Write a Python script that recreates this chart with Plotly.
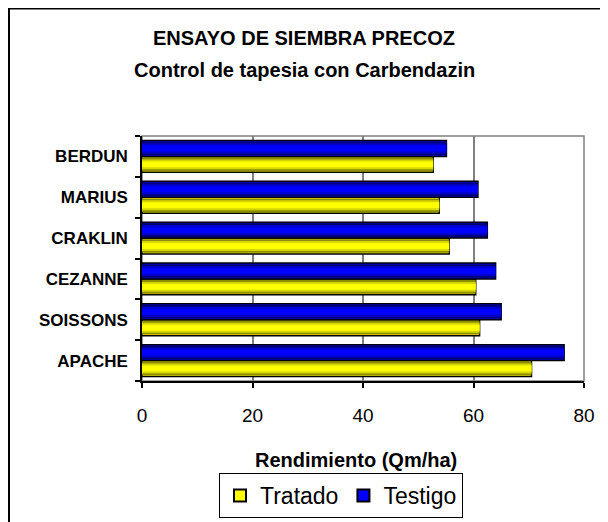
import plotly.graph_objects as go

# ---- data ----
categories = ["APACHE", "SOISSONS", "CEZANNE", "CRAKLIN", "MARIUS", "BERDUN"]
tratado = [70.5, 61.1, 60.4, 55.6, 53.8, 52.7]
testigo = [76.4, 65.0, 64.0, 62.5, 60.8, 55.1]
x_ticks = [0, 20, 40, 60, 80]

title1 = "ENSAYO DE SIEMBRA PRECOZ"
title2 = "Control de tapesia con Carbendazin"
x_title = "Rendimiento (Qm/ha)"

FONT = "Liberation Sans, Arial, sans-serif"

# page offset (body margin) and figure geometry
OFF = 8
W, H = 600, 514
L, R, T, B = 134, 24, 128, 141
pw, ph = W - L - R, H - T - B
def px(x):  # x in screenshot pixels -> paper coords
    return (x - OFF - L) / pw
def py(y):  # y in screenshot pixels -> paper coords
    return (H - B - (y - OFF)) / ph
def cx(x):  # screenshot pixels -> container coords
    return (x - OFF) / W
def cy(y):
    return 1 - (y - OFF) / H

fig = go.Figure()

bw = 0.39       # bar thickness in category units
u = 1 / 40.8    # one pixel in category units

def add_series(name, values, side, colors):
    bright, mid, dark = colors
    layers = [
        (0.0, bright, True, 1.5),
        (1.2 * u, dark, False, 0),
        (3.0 * u, mid, False, 0),
        (5.0 * u, bright, False, 0),
    ]
    for inset, col, show, lw in layers:
        width = bw - 2 * inset
        offset = (inset if side > 0 else -bw + inset)
        fig.add_trace(go.Bar(
            y=categories, x=values, orientation="h", name=name,
            width=width, offset=offset,
            marker=dict(color=col, line=dict(color="black", width=lw)),
            showlegend=show, legendgroup=name, hoverinfo="x+name",
        ))

add_series("Tratado", tratado, -1, ("#FFFF00", "#D6D600", "#8C8C00"))
add_series("Testigo", testigo, +1, ("#0000FF", "#0000CC", "#00007A"))

annotations = [
    dict(text=f"<b>{title1}</b>", x=px(304), y=py(38), xref="paper", yref="paper",
         showarrow=False, font=dict(size=20, color="black", family=FONT),
         xanchor="center", yanchor="middle"),
    dict(text=f"<b>{title2}</b>", x=px(304), y=py(70), xref="paper", yref="paper",
         showarrow=False, font=dict(size=20, color="black", family=FONT),
         xanchor="center", yanchor="middle"),
    dict(text=f"<b>{x_title}</b>", x=px(356), y=py(460), xref="paper", yref="paper",
         showarrow=False, font=dict(size=20, color="black", family=FONT),
         xanchor="center", yanchor="middle"),
]

shapes = [
    dict(type="rect", xref="paper", yref="paper", x0=0, x1=1, y0=0, y1=1,
         line=dict(color="#808080", width=1.5), layer="below"),
    # outer chart border (only top and left visible)
    dict(type="rect", xref="paper", yref="paper", x0=px(9), x1=px(700), y0=py(600), y1=py(8.5),
         line=dict(color="black", width=2)),
]

fig.update_layout(
    width=W, height=H,
    margin=dict(l=L, r=R, t=T, b=B, pad=0, autoexpand=False),
    paper_bgcolor="white", plot_bgcolor="white",
    barmode="overlay",
    font=dict(family=FONT, color="black"),
    annotations=annotations,
    shapes=shapes,
    xaxis=dict(
        range=[0, 80], tickvals=x_ticks, ticktext=[str(v) for v in x_ticks],
        showgrid=True, gridcolor="#808080", gridwidth=1.5,
        showline=True, linecolor="black", linewidth=1.5,
        ticks="outside", ticklen=5, tickcolor="black", tickwidth=1.5,
        tickfont=dict(size=19, family=FONT), ticklabelstandoff=11,
        zeroline=False, fixedrange=True, automargin=False,
    ),
    yaxis=dict(
        type="category", categoryorder="array", categoryarray=categories,
        range=[-0.5, len(categories) - 0.5],
        tickson="boundaries", ticks="outside", ticklen=5, tickcolor="black", tickwidth=1.5,
        showline=True, linecolor="black", linewidth=1.5,
        showgrid=False, zeroline=False, automargin=False,
        tickfont=dict(size=17, family=FONT), ticklabelstandoff=9, fixedrange=True,
        tickprefix="<b>", ticksuffix="</b>",
    ),
    legend=dict(
        orientation="h", xref="container", yref="container",
        x=cx(341), xanchor="center", y=cy(473), yanchor="top",
        bordercolor="black", borderwidth=1, bgcolor="white",
        font=dict(size=23, family=FONT), traceorder="normal",
        itemsizing="constant", tracegroupgap=0, itemwidth=30,
    ),
)

fig.write_html("out.html")
